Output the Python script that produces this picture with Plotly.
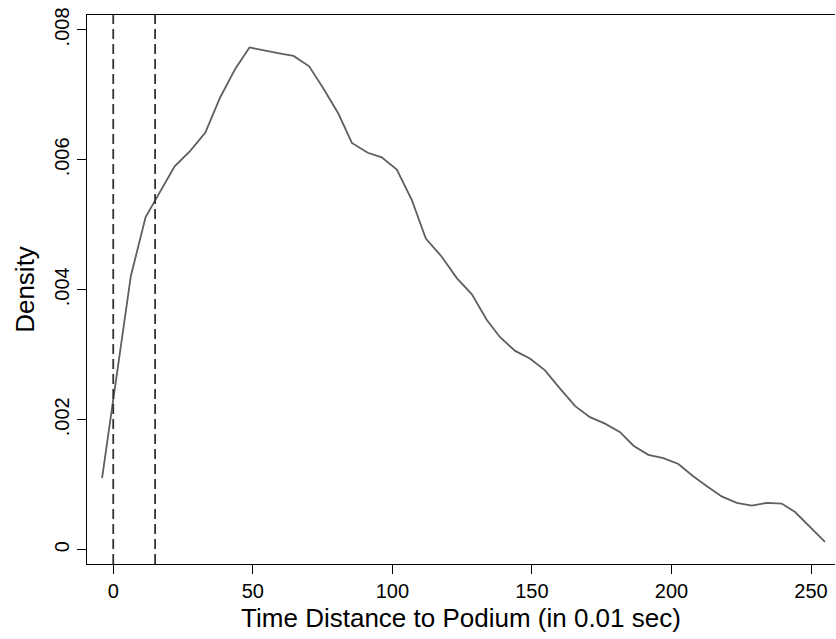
import plotly.graph_objects as go

# Kernel density curve
time_dist = [-4.0, 1.4, 6.3, 11.6, 16.8, 22.0, 27.6, 33.0, 38.3, 43.7,
             48.8, 54.2, 59.5, 64.6, 70.2, 75.3, 80.7, 85.5, 91.2, 96.2,
             101.6, 107.0, 112.0, 117.7, 123.1, 128.5, 133.8, 138.6, 144.0, 149.4,
             154.7, 160.1, 165.5, 170.8, 176.2, 181.6, 186.4, 191.7, 197.1, 202.5,
             207.8, 212.6, 218.0, 223.4, 228.8, 234.1, 239.5, 244.3, 249.6, 255.0]
density = [0.00110, 0.00271, 0.00421, 0.00512, 0.00552, 0.00590, 0.00614, 0.00642, 0.00696, 0.00740,
           0.00773, 0.00768, 0.00764, 0.00760, 0.00744, 0.00710, 0.00671, 0.00626, 0.00611, 0.00604,
           0.00585, 0.00538, 0.00479, 0.00451, 0.00418, 0.00393, 0.00354, 0.00327, 0.00306, 0.00294,
           0.00276, 0.00248, 0.00221, 0.00204, 0.00194, 0.00181, 0.00160, 0.00146, 0.00141, 0.00132,
           0.00113, 0.00098, 0.00082, 0.00072, 0.00068, 0.00072, 0.00071, 0.00058, 0.00035, 0.00012]

reference_lines = [0, 15]

x_ticks = [0, 50, 100, 150, 200, 250]
x_tick_labels = ["0", "50", "100", "150", "200", "250"]
y_ticks = [0, 0.002, 0.004, 0.006, 0.008]
y_tick_labels = ["0", ".002", ".004", ".006", ".008"]

FONT = "Liberation Sans, Arial, sans-serif"

fig = go.Figure()
fig.add_trace(go.Scatter(
    x=time_dist, y=density, mode="lines",
    line=dict(color="#5f5f5f", width=1.8),
    showlegend=False, hoverinfo="skip",
))

for xv in reference_lines:
    fig.add_vline(x=xv, line=dict(color="#333333", width=1.8, dash="10px,5px"))

fig.update_layout(
    width=836, height=639,
    margin=dict(l=87, r=1, t=15, b=75),
    paper_bgcolor="white", plot_bgcolor="white",
    font=dict(family=FONT, color="black"),
    xaxis=dict(
        range=[-9.4, 258.6],
        tickvals=x_ticks, ticktext=x_tick_labels,
        ticks="outside", ticklen=9, tickwidth=1.2, tickcolor="black",
        showline=True, linecolor="black", linewidth=1.4, mirror=True,
        showgrid=False, zeroline=False,
        tickfont=dict(size=20, family=FONT),
        title=dict(text="Time Distance to Podium (in 0.01 sec)",
                   font=dict(size=26, family=FONT), standoff=7),
    ),
    yaxis=dict(
        range=[-0.00022, 0.00823],
        tickvals=y_ticks, ticktext=y_tick_labels,
        tickangle=-90,
        ticks="outside", ticklen=9, tickwidth=1.2, tickcolor="black",
        showline=True, linecolor="black", linewidth=1.4, mirror=False,
        showgrid=False, zeroline=False,
        tickfont=dict(size=20, family=FONT),
        title=dict(text="Density", font=dict(size=26, family=FONT), standoff=8),
    ),
)

fig.write_html("out.html")
